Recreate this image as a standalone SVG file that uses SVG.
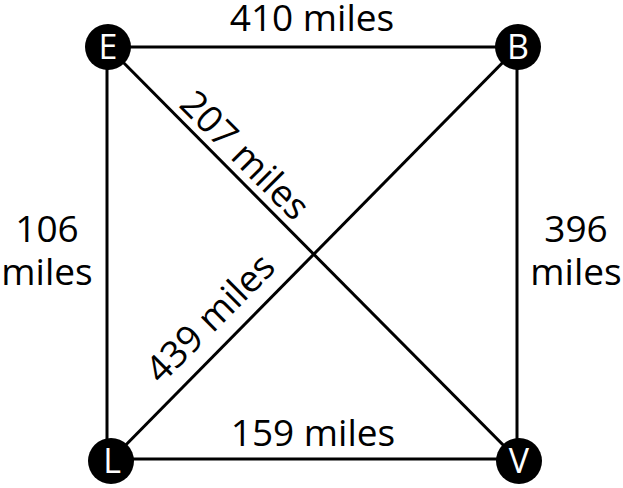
<svg xmlns="http://www.w3.org/2000/svg" width="623" height="488" viewBox="0 0 623 488">
<style>
.e{stroke:#000;stroke-width:3;fill:none}
.t{font-family:"Open Sans","Noto Sans",sans-serif;font-size:37px;fill:#000;text-anchor:middle}
.n{fill:#000}
.nl{font-family:"Open Sans","Noto Sans",sans-serif;font-size:34px;fill:#fff;text-anchor:middle}
</style>
<rect width="623" height="488" fill="#fff"/>
<g id="connectors">
<line class="e" x1="108" y1="47" x2="518" y2="47"/>
<line class="e" x1="107" y1="47" x2="107" y2="459"/>
<line class="e" x1="517" y1="47" x2="517" y2="459"/>
<line class="e" x1="107" y1="459" x2="517" y2="459"/>
<line class="e" x1="108" y1="47" x2="519" y2="461"/>
<line class="e" x1="518" y1="47" x2="110" y2="461"/>
</g>
<g id="labels">
<text class="t" x="312" y="31">410 miles</text>
<text class="t" x="313" y="446">159 miles</text>
<text class="t" x="47" y="242">106</text>
<text class="t" x="47" y="285">miles</text>
<text class="t" x="576" y="242">396</text>
<text class="t" x="576" y="285">miles</text>
<text class="t" transform="translate(245,155) rotate(45)" y="13">207 miles</text>
<text class="t" transform="translate(210,318) rotate(-45)" y="13">439 miles</text>
</g>
<g id="node-E"><circle class="n" cx="108" cy="47" r="23"/><text class="nl" x="108" y="59">E</text></g>
<g id="node-B"><circle class="n" cx="518" cy="47" r="23"/><text class="nl" x="518" y="59">B</text></g>
<g id="node-L"><circle class="n" cx="111" cy="461" r="23"/><text class="nl" x="112" y="473">L</text></g>
<g id="node-V"><circle class="n" cx="519" cy="461" r="23"/><text class="nl" x="519" y="473">V</text></g>
</svg>
